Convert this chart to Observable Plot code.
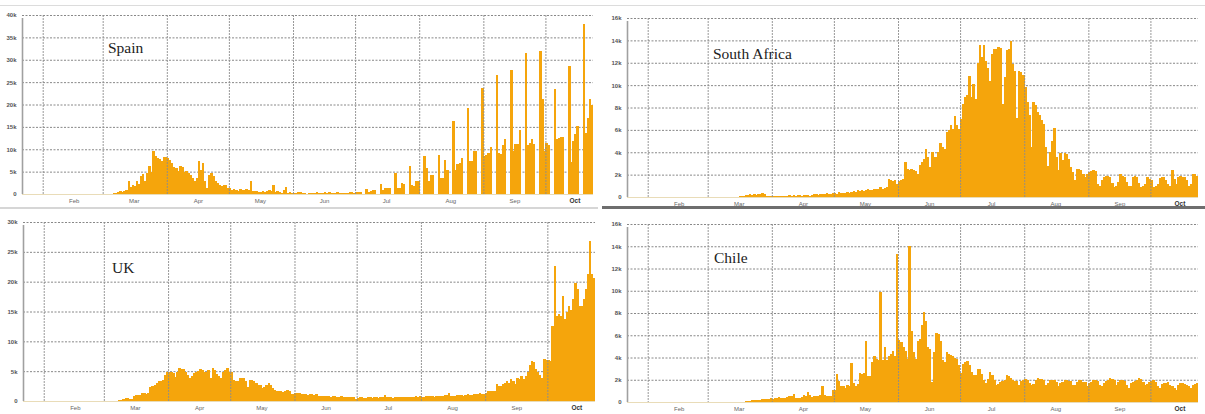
<!DOCTYPE html>
<html>
<head>
<meta charset="utf-8">
<script src="https://cdn.jsdelivr.net/npm/d3@7"></script>
<script src="https://cdn.jsdelivr.net/npm/@observablehq/plot@0.6"></script>
<style>
  html, body { margin: 0; padding: 0; background: #fff; }
  #wrap { position: relative; width: 1205px; height: 414px; overflow: hidden; background: #fff; }
  .panel { position: absolute; }
  .panel svg { overflow: visible; display: block; }
  .title { position: absolute; font-family: "Liberation Serif", "Times New Roman", serif; font-size: 15.5px; line-height: 16px; color: #222; white-space: nowrap; }
  .sep { position: absolute; }
</style>
</head>
<body>
<div id="wrap"></div>
<script>
// ---------------- DATA (daily new cases, thousands) ----------------
const titles = ["Spain", "South Africa", "UK", "Chile"];
const monthLabels = ["Feb", "Mar", "Apr", "May", "Jun", "Jul", "Aug", "Sep", "Oct"];
const monthStartDates = ["2020-02-01","2020-03-01","2020-04-01","2020-05-01","2020-06-01","2020-07-01","2020-08-01","2020-09-01","2020-10-01"];
const monthLabelDates = ["2020-02-16","2020-03-16","2020-04-16","2020-05-16","2020-06-16","2020-07-16","2020-08-16","2020-09-16","2020-10-15"];
const domainStart = "2020-01-22";
const domainEnd = "2020-10-24";

const spainStart = "2020-03-03";
const spainCases = [
  0.05,0.1,0.1,0.2,0.2,0.4,0.6,0.5,0.6,0.9,
  3.0,1.5,2.0,1.8,2.8,2.2,4.0,4.5,2.8,4.8,
  6.2,5.0,9.6,8.4,8.0,7.8,7.3,8.2,8.3,8.0,
  7.7,7.0,6.0,5.8,5.2,6.2,6.0,5.0,5.1,4.7,
  4.2,3.6,2.8,3.5,7.3,5.4,7.0,2.8,1.3,4.3,
  4.6,4.0,2.8,2.4,2.1,1.7,1.9,2.1,1.4,1.3,
  1.0,1.2,0.9,0.7,1.2,1.0,0.8,1.1,0.9,2.8,
  0.7,0.6,0.6,0.5,0.5,0.6,0.4,0.7,0.8,0.7,
  2.0,0.5,0.6,0.4,0.3,0.8,1.5,0.3,0.4,0.3,
  0.2,0.3,0.4,0.4,0.3,0.2,0.1,0.3,0.3,0.2,
  0.3,0.4,0.2,0.2,0.3,0.4,0.3,0.4,0.3,0.2,
  0.3,0.4,0.3,0.3,0.2,0.2,0.3,0.4,0.4,0.2,
  0.4,0.5,0.4,0,0,1.2,0.5,0.6,0.8,0.9,
  0,0,2.2,1.0,1.3,1.4,1.4,0,0,4.7,
  1.3,1.4,2.5,2.2,0,0,6.2,1.9,1.8,2.8,
  2.8,0,0,8.4,5.8,3.0,4.3,4.3,0,0,
  8.7,3.6,3.6,7.5,5.4,0,0,16.3,5.4,6.8,
  6.9,8.0,0,0,19.3,7.3,7.3,9.5,9.5,0,
  0,23.7,8.4,8.8,9.2,10.4,0,0,26.6,9.2,
  8.9,11.0,12.3,0,0,27.6,9.5,11.2,11.2,14.4,
  0,0,31.6,11.0,11.3,12.3,11.2,0,0,32.0,
  21.2,9.5,11.4,11.0,0,0,23.5,12.2,12.5,12.7,
  12.8,0,0,28.7,7.1,11.8,13.3,15.1,0,0,
  38.1,13.7,17.0,21.2,20.0
];

const southAfricaStart = "2020-03-12";
const southAfricaCases = [
  0.01,0.02,0.02,0.03,0.05,0.06,0.1,0.15,0.2,0.25,
  0.2,0.25,0.2,0.25,0.3,0.35,0.3,0.05,0.1,0.08,
  0.1,0.08,0.1,0.1,0.05,0.06,0.1,0.1,0.15,0.1,
  0.15,0.12,0.15,0.18,0.1,0.15,0.2,0.15,0.12,0.2,
  0.25,0.3,0.2,0.3,0.25,0.3,0.35,0.3,0.25,0.35,
  0.4,0.3,0.45,0.4,0.35,0.4,0.45,0.4,0.45,0.5,
  0.45,0.6,0.5,0.65,0.55,0.6,0.7,0.65,0.6,0.7,
  0.75,0.7,0.85,0.75,0.8,0.9,1.6,1.5,1.4,1.5,
  1.2,1.4,1.5,1.6,3.1,2.5,2.4,2.5,2.4,2.3,
  2.1,2.9,3.1,3.4,4.3,3.6,2.7,4.0,3.6,3.6,
  4.0,4.8,4.5,4.3,5.8,6.0,6.4,6.1,7.2,6.4,
  6.1,7.0,8.3,8.9,9.1,10.8,8.9,10.1,8.8,12.0,
  13.6,12.5,13.6,12.2,11.5,10.4,12.8,13.2,13.2,13.4,
  13.3,8.3,10.7,13.1,13.2,13.9,11.9,11.3,7.1,11.3,
  11.2,10.9,9.8,8.5,7.3,4.5,8.5,8.2,7.6,7.3,
  6.9,6.5,4.5,2.8,4.0,5.0,6.2,3.6,2.4,3.9,
  3.3,3.9,3.8,3.4,2.7,2.2,1.5,2.5,2.5,2.4,
  2.1,1.8,2.1,2.2,2.3,2.4,2.3,1.2,1.0,1.5,
  1.8,1.9,1.9,1.8,1.25,0.9,1.0,1.3,2.1,1.9,
  1.8,1.3,1.0,1.0,1.8,1.9,1.8,1.25,0.9,1.0,
  1.2,1.8,1.6,1.5,0.9,1.0,1.2,1.7,1.8,1.8,
  1.5,1.2,1.0,2.4,1.6,1.2,1.8,1.9,1.8,1.8,
  1.5,1.0,1.2,2.1,2.1,1.9
];

const ukStart = "2020-03-02";
const ukCases = [
  0.01,0.02,0.03,0.04,0.05,0.05,0.1,0.2,0.4,0.5,
  0.5,0.3,0.3,0.8,1.0,1.0,1.0,1.3,1.3,1.2,
  1.3,2.4,2.5,2.7,3.0,3.3,3.3,3.6,4.4,4.9,
  4.9,4.9,4.7,4.1,4.9,5.5,5.4,5.3,4.9,4.4,
  3.8,4.2,4.7,4.9,5.1,5.4,5.2,4.9,4.9,5.2,
  3.8,5.5,5.2,4.5,4.2,3.8,4.9,5.2,5.5,4.9,
  4.9,3.5,3.4,3.3,3.8,3.9,3.9,3.3,2.4,3.5,
  3.5,3.3,3.0,2.7,2.7,2.1,2.4,2.7,3.0,2.6,
  2.2,1.9,1.6,1.7,1.6,1.5,1.7,1.9,1.6,1.1,
  1.1,1.3,1.4,1.4,1.2,1.1,1.2,1.0,1.1,1.2,
  1.0,1.1,0.9,0.8,0.8,0.8,0.9,0.8,0.7,0.8,
  0.8,0.7,0.7,0.8,0.7,0.7,0.7,0.6,0.7,0.7,
  0.4,0.5,0.6,0.6,0.5,0.5,0.6,0.6,0.5,0.6,
  0.6,0.5,0.6,0.7,1.0,0.6,0.6,0.6,0.5,0.6,
  0.6,0.6,0.7,0.7,0.6,0.6,0.7,0.7,0.7,0.8,
  0.7,0.8,0.7,0.7,0.8,0.8,0.9,0.8,0.7,0.9,
  0.9,0.8,0.9,1.0,1.0,1.3,0.9,0.8,0.9,1.0,
  1.0,1.0,0.9,1.0,1.1,1.0,1.0,1.1,1.2,1.2,
  1.3,1.2,1.1,1.3,1.7,1.7,1.6,1.7,2.8,2.5,
  2.5,2.9,3.1,3.4,3.0,3.7,3.3,2.8,3.9,3.7,
  4.2,3.7,4.2,4.8,6.0,6.7,6.5,5.4,4.8,4.4,
  3.9,7.0,6.9,6.9,6.7,12.6,22.7,14.3,14.6,14.3,
  17.6,13.8,15.0,16.0,15.2,17.1,19.7,18.8,16.0,16.0,
  17.1,18.8,21.3,26.8,21.3,20.6
];

const chileStart = "2020-03-19";
const chileCases = [
  0.05,0.1,0.1,0.15,0.15,0.2,0.2,0.15,0.25,0.3,
  0.3,0.3,0.35,0.3,0.35,0.4,0.45,0.4,0.35,0.4,
  0.45,0.5,0.55,0.7,0.4,0.35,0.4,0.45,0.6,0.5,
  0.9,0.6,0.45,0.5,0.5,0.5,0.6,1.4,0.6,0.5,
  0.55,0.55,1.1,1.1,2.5,1.85,1.4,1.4,1.3,1.5,
  1.4,3.5,1.7,1.4,1.6,2.6,2.5,2.6,5.5,2.3,
  2.3,3.6,4.1,3.9,3.8,9.9,3.8,4.9,3.8,4.1,
  4.3,4.6,4.1,13.3,5.6,5.4,4.9,4.6,3.9,14.0,
  6.4,4.5,3.9,5.5,5.7,6.9,8.1,7.3,4.9,4.8,
  1.8,4.5,6.2,6.1,5.5,3.8,3.6,4.5,4.3,4.2,
  4.1,4.0,3.9,3.3,2.6,3.4,3.6,3.7,3.3,2.7,
  2.4,2.4,3.0,3.0,2.5,2.0,1.7,2.1,2.7,2.4,
  2.0,1.5,1.6,1.8,1.9,2.0,2.4,2.3,2.2,2.0,
  1.9,1.9,1.5,1.9,2.0,2.1,2.0,1.7,1.5,1.6,
  2.0,2.2,2.1,2.1,2.0,1.5,1.7,2.0,2.0,2.0,
  1.8,1.4,1.7,1.8,2.0,2.0,1.9,1.9,1.5,1.5,
  1.8,2.0,2.0,1.8,1.8,1.4,1.7,1.8,2.0,2.0,
  1.9,1.5,1.4,1.7,1.9,2.0,2.2,2.1,2.0,1.5,
  1.8,2.0,2.0,1.9,1.5,1.3,1.7,1.8,1.9,2.0,
  2.2,2.1,1.8,1.5,1.6,1.8,1.9,2.0,1.8,1.4,
  1.25,1.6,1.7,1.75,1.8,1.5,1.4,1.3,1.1,1.5,
  1.75,1.75,1.6,1.5,1.4,1.25,1.5,1.6,1.7
];

const spainTicks = [0, 5, 10, 15, 20, 25, 30, 35, 40];
const southAfricaTicks = [0, 2, 4, 6, 8, 10, 12, 14, 16];
const ukTicks = [0, 5, 10, 15, 20, 25, 30];
const chileTicks = [0, 2, 4, 6, 8, 10, 12, 14, 16];

// ---------------- BUILD ----------------
const parse = d3.utcParse("%Y-%m-%d");
function series(startStr, vals) {
  const s = parse(startStr);
  return vals.map((v, i) => ({date: d3.utcDay.offset(s, i), value: v}));
}
const monthStarts = monthStartDates.map(parse);
const monthMids = monthLabelDates.map(parse);
const x0 = parse(domainStart), x1 = parse(domainEnd);
const fmtY = d => d === 0 ? "0" : d + "k";
const labelOf = d => monthLabels[monthMids.findIndex(m => +m === +d)];

function panel(cfg) {
  const data = series(cfg.start, cfg.values);
  const ticks = cfg.ticks;
  const plot = Plot.plot({
    width: cfg.width, height: cfg.height,
    marginLeft: cfg.ml, marginRight: cfg.mr, marginTop: cfg.mt, marginBottom: cfg.mb,
    style: {fontFamily: "'Liberation Sans', Arial, sans-serif", fontSize: "6px", color: "#555", background: "transparent"},
    x: {type: "utc", domain: [x0, x1], label: null},
    y: {domain: [0, ticks[ticks.length - 1]], label: null},
    marks: [
      Plot.ruleY(ticks.slice(1), {stroke: "#7a7a7a", strokeWidth: 0.9, strokeDasharray: "2,1.5"}),
      Plot.rectY(data, {x: "date", y: "value", interval: "day", fill: "#f5a50c", insetLeft: 0, insetRight: -0.35, shapeRendering: "crispEdges"}),
      Plot.ruleX(monthStarts, {stroke: "#8c8c8c", strokeWidth: 0.9, strokeDasharray: "2,1"}),
      Plot.ruleY([0], {stroke: "#e9dcb8", strokeWidth: 1}),
      Plot.ruleX([x0], {stroke: "#a0a0a0", strokeWidth: 1.6, y1: 0, y2: ticks[ticks.length - 1], insetBottom: -3}),
      Plot.axisY({ticks, tickSize: 0, tickPadding: 6, tickFormat: fmtY, fontSize: 6, fill: "#555", fontWeight: "bold", label: null}),
      Plot.axisX({ticks: monthMids.slice(0, 8), tickSize: 0, tickPadding: 4, tickFormat: labelOf, fontSize: 6, fill: "#666", label: null}),
      Plot.axisX({ticks: monthMids.slice(8), tickSize: 0, tickPadding: 4, tickFormat: labelOf, fontSize: 6.5, fill: "#333", fontWeight: "bold", label: null})
    ]
  });
  const div = document.createElement("div");
  div.className = "panel";
  div.style.left = cfg.left + "px";
  div.style.top = cfg.top + "px";
  div.appendChild(plot);
  document.getElementById("wrap").appendChild(div);
  const t = document.createElement("div");
  t.className = "title";
  t.textContent = cfg.title;
  t.style.left = cfg.tx + "px";
  t.style.top = cfg.ty + "px";
  document.getElementById("wrap").appendChild(t);
}

function sep(left, top, width, height, color) {
  const d = document.createElement("div");
  d.className = "sep";
  Object.assign(d.style, {left: left + "px", top: top + "px", width: width + "px", height: height + "px", background: color});
  document.getElementById("wrap").appendChild(d);
}

sep(0, 5, 1205, 1, "#dcdcdc");
sep(0, 207, 598, 2, "#d6d6d6");
sep(602, 206, 603, 3, "#6e6e6e");

panel({title: titles[0], start: spainStart, values: spainCases, ticks: spainTicks,
  left: 0, top: 0, width: 600, height: 207, ml: 22, mr: 7, mt: 15, mb: 13, tx: 108, ty: 40});
panel({title: titles[1], start: southAfricaStart, values: southAfricaCases, ticks: southAfricaTicks,
  left: 600, top: 0, width: 605, height: 207, ml: 27, mr: 7, mt: 18, mb: 10, tx: 713, ty: 46});
panel({title: titles[2], start: ukStart, values: ukCases, ticks: ukTicks,
  left: 0, top: 205, width: 600, height: 209, ml: 23, mr: 5, mt: 17, mb: 13, tx: 112, ty: 260});
panel({title: titles[3], start: chileStart, values: chileCases, ticks: chileTicks,
  left: 600, top: 205, width: 605, height: 209, ml: 27, mr: 7, mt: 19, mb: 12, tx: 714, ty: 250});
</script>
</body>
</html>
